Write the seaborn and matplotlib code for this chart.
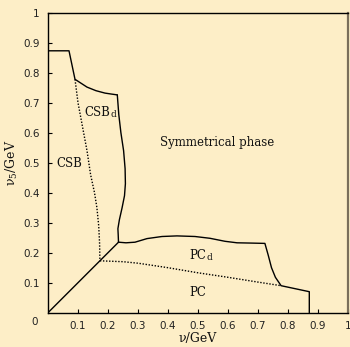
import matplotlib
matplotlib.use("Agg")
import matplotlib.pyplot as plt
import seaborn as sns
import pandas as pd

# --- data ---
diag_x = [0.0, 0.235]
diag_y = [0.0, 0.235]

csb_top_x = [0.0, 0.07, 0.09, 0.11, 0.13, 0.16, 0.19, 0.21, 0.231]
csb_top_y = [0.873, 0.873, 0.778, 0.765, 0.752, 0.740, 0.732, 0.729, 0.726]

csbd_x = [0.231, 0.236, 0.243, 0.252, 0.257, 0.258, 0.255, 0.247, 0.238, 0.233, 0.234, 0.235]
csbd_y = [0.726, 0.66, 0.60, 0.54, 0.48, 0.43, 0.39, 0.35, 0.31, 0.28, 0.26, 0.235]

csb_dot_x = [0.09, 0.10, 0.115, 0.13, 0.142, 0.155, 0.163, 0.169, 0.172, 0.173]
csb_dot_y = [0.778, 0.70, 0.62, 0.54, 0.46, 0.40, 0.35, 0.29, 0.23, 0.173]

pcd_x = [0.235, 0.26, 0.29, 0.33, 0.38, 0.43, 0.49, 0.54, 0.59, 0.63, 0.68, 0.723, 0.734, 0.745, 0.758, 0.777, 0.871, 0.871]
pcd_y = [0.235, 0.233, 0.235, 0.247, 0.254, 0.256, 0.254, 0.248, 0.238, 0.233, 0.232, 0.231, 0.192, 0.150, 0.118, 0.090, 0.070, 0.0]

pc_dot_x = [0.173, 0.25, 0.30, 0.40, 0.50, 0.60, 0.70, 0.777]
pc_dot_y = [0.173, 0.170, 0.165, 0.150, 0.133, 0.118, 0.102, 0.090]

ticks = [0.1, 0.2, 0.3, 0.4, 0.5, 0.6, 0.7, 0.8, 0.9, 1.0]
tick_labels = ["0.1", "0.2", "0.3", "0.4", "0.5", "0.6", "0.7", "0.8", "0.9", "1"]

region_labels = ["CSB", "CSB", "Symmetrical phase", "PC", "PC"]
region_subs = ["d", "", "", "d", ""]
region_x = [0.12, 0.027, 0.373, 0.47, 0.47]
region_y = [0.667, 0.496, 0.566, 0.192, 0.068]

bg = "#fdeec7"
sns.set_theme(style="ticks")
plt.rcParams["font.family"] = ["DejaVu Sans"]
plt.rcParams["mathtext.default"] = "regular"

fig = plt.figure(figsize=(3.5, 3.47), dpi=100, facecolor=bg)
ax = fig.add_axes([48 / 350, (347 - 312.7) / 347, 300 / 350, 300 / 347])
ax.set_facecolor(bg)

solid = dict(color="black", linewidth=1.0, sort=False, estimator=None, ax=ax)
dotted = dict(color="black", linewidth=1.0, linestyle=(0, (1, 1.2)), sort=False, estimator=None, ax=ax)

for xs, ys in [(diag_x, diag_y), (csb_top_x, csb_top_y), (csbd_x, csbd_y), (pcd_x, pcd_y)]:
    sns.lineplot(data=pd.DataFrame({"x": xs, "y": ys}), x="x", y="y", **solid)
for xs, ys in [(csb_dot_x, csb_dot_y), (pc_dot_x, pc_dot_y)]:
    sns.lineplot(data=pd.DataFrame({"x": xs, "y": ys}), x="x", y="y", **dotted)

ax.set_xlim(0, 1)
ax.set_ylim(0, 1)
ax.set_xticks(ticks)
ax.set_yticks(ticks)
ax.set_xticklabels(tick_labels)
ax.set_yticklabels(tick_labels)
ax.tick_params(direction="in", length=3, width=0.8, labelsize=7.5, colors="black",
               labelcolor="#222222", pad=6, top=False, right=False)

for s in ["left", "bottom", "top"]:
    ax.spines[s].set_color("black")
    ax.spines[s].set_linewidth(1.0)
ax.spines["right"].set_color("#7a6f5a")
ax.spines["right"].set_linewidth(1.6)

ax.text(-0.043, -0.031, "0", transform=ax.transData, fontsize=7.5, color="#222222",
        ha="center", va="center", clip_on=False)

serif = "DejaVu Serif"
ax.set_xlabel("ν/GeV", family=serif, fontsize=9, color="#111111", labelpad=1)
ax.set_ylabel("ν$_5$/GeV", family=serif, fontsize=9, color="#111111", labelpad=2)

for lab, sub, x, y in zip(region_labels, region_subs, region_x, region_y):
    t = ax.text(x, y, lab, family=serif, fontsize=8.5, color="#111111", ha="left", va="center")
    if sub:
        fig.canvas.draw()
        bb = t.get_window_extent().transformed(ax.transData.inverted())
        ax.text(bb.x1 + 0.002, y - 0.008, sub, family=serif, fontsize=6.5,
                color="#111111", ha="left", va="center")

fig.savefig("out.png", dpi=100, facecolor=bg)
